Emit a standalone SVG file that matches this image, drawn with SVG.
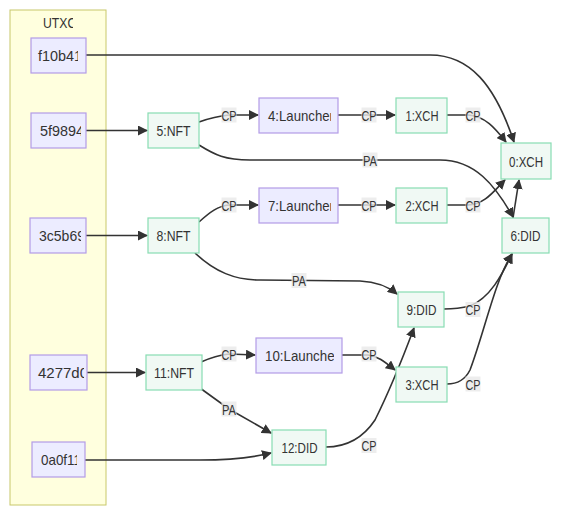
<svg xmlns="http://www.w3.org/2000/svg" width="572" height="519" viewBox="0 0 572 519">
<style>
.cluster{fill:#ffffde;stroke:#c8c86a;stroke-width:1}
.utxo rect{fill:#ececff;stroke:#b39ce6;stroke-width:1.2}
.launch rect{fill:#ececff;stroke:#b39ce6;stroke-width:1.2}
.coin rect{fill:#f0f9f4;stroke:#88dcb2;stroke-width:1.2}
text{font-family:"Liberation Sans",Arial,sans-serif;font-size:15px;fill:#333}
.edge{fill:none;stroke:#333;stroke-width:1.6}
.lbl rect{fill:#e8e8e8;opacity:0.8}
</style>
<defs>
<marker id="ah" viewBox="0 0 10 10" refX="9" refY="5" markerUnits="userSpaceOnUse" markerWidth="10" markerHeight="10" orient="auto">
<path d="M0,0 L10,5 L0,10 z" fill="#333"/>
</marker>
<clipPath id="cT"><rect x="10" y="10" width="63" height="30"/></clipPath>
<clipPath id="c1"><rect x="31" y="38" width="47" height="35"/></clipPath>
<clipPath id="c2"><rect x="31" y="113" width="50" height="35"/></clipPath>
<clipPath id="c3"><rect x="30" y="218" width="51" height="35"/></clipPath>
<clipPath id="c4"><rect x="30" y="355" width="54" height="35"/></clipPath>
<clipPath id="c5"><rect x="32" y="442" width="45" height="35"/></clipPath>
<clipPath id="cL4"><rect x="259" y="98" width="72" height="35"/></clipPath>
<clipPath id="cL7"><rect x="259" y="188" width="72" height="35"/></clipPath>
<clipPath id="cL10"><rect x="256" y="338" width="78" height="35"/></clipPath>
</defs>

<g id="UTXO">
<rect class="cluster" x="10" y="10" width="96" height="495"/>
<text x="43" y="27.5" textLength="34" lengthAdjust="spacingAndGlyphs" clip-path="url(#cT)">UTXO</text>
</g>

<g id="edges">
<path class="edge" d="M86,55 L430,55 C470,55 495,85 514,142" marker-end="url(#ah)"/>
<path class="edge" d="M86,130.5 L147,130.5" marker-end="url(#ah)"/>
<path class="edge" d="M199,122 C210,118 218,116 229,115 L258,115" marker-end="url(#ah)"/>
<path class="edge" d="M338,115 L395,115" marker-end="url(#ah)"/>
<path class="edge" d="M447,115 L468,115 C485,116 495,128 506,142" marker-end="url(#ah)"/>
<path class="edge" d="M199,145 C215,155 225,160 250,160 L440,160 C475,160 495,185 513,217" marker-end="url(#ah)"/>
<path class="edge" d="M86,235.5 L147,235.5" marker-end="url(#ah)"/>
<path class="edge" d="M199,222 C210,212 218,206 229,205 L258,205" marker-end="url(#ah)"/>
<path class="edge" d="M338,205 L395,205" marker-end="url(#ah)"/>
<path class="edge" d="M447,205 L468,205 C485,204 493,192 505,180" marker-end="url(#ah)"/>
<path class="edge" d="M513,218 L519,180" marker-end="url(#ah)"/>
<path class="edge" d="M195,253 C215,272 235,280 260,280 L360,281 C380,282 390,288 397,294" marker-end="url(#ah)"/>
<path class="edge" d="M444,309 C455,309 462,308 470,306 C490,298 502,275 512,254" marker-end="url(#ah)"/>
<path class="edge" d="M447,384 C458,384 465,380 470,370 C485,330 495,280 512,254" marker-end="url(#ah)"/>
<path class="edge" d="M87,372.5 L145,372.5" marker-end="url(#ah)"/>
<path class="edge" d="M201,362 C210,358 220,355 229,354 L255,355" marker-end="url(#ah)"/>
<path class="edge" d="M200,388 L229,409 L271,433" marker-end="url(#ah)"/>
<path class="edge" d="M342,355 L368,355 C378,356 385,362 395,370" marker-end="url(#ah)"/>
<path class="edge" d="M85,460 L200,460 C235,460 255,457 271,453" marker-end="url(#ah)"/>
<path class="edge" d="M326,447 C350,447 365,435 375,420 C390,390 402,360 414,328" marker-end="url(#ah)"/>
</g>

<g id="edge-labels">
<g class="lbl"><rect x="221.5" y="107.5" width="15" height="15"/><text x="229" y="120.5" text-anchor="middle" textLength="15" lengthAdjust="spacingAndGlyphs">CP</text></g>
<g class="lbl"><rect x="361.5" y="107.5" width="15" height="15"/><text x="369" y="120.5" text-anchor="middle" textLength="15" lengthAdjust="spacingAndGlyphs">CP</text></g>
<g class="lbl"><rect x="465.5" y="107.5" width="15" height="15"/><text x="473" y="120.5" text-anchor="middle" textLength="15" lengthAdjust="spacingAndGlyphs">CP</text></g>
<g class="lbl"><rect x="362.5" y="152.5" width="15" height="15"/><text x="370" y="165.5" text-anchor="middle" textLength="14" lengthAdjust="spacingAndGlyphs">PA</text></g>
<g class="lbl"><rect x="221.5" y="197.5" width="15" height="15"/><text x="229" y="210.5" text-anchor="middle" textLength="15" lengthAdjust="spacingAndGlyphs">CP</text></g>
<g class="lbl"><rect x="361.5" y="197.5" width="15" height="15"/><text x="369" y="210.5" text-anchor="middle" textLength="15" lengthAdjust="spacingAndGlyphs">CP</text></g>
<g class="lbl"><rect x="465.5" y="197.5" width="15" height="15"/><text x="473" y="210.5" text-anchor="middle" textLength="15" lengthAdjust="spacingAndGlyphs">CP</text></g>
<g class="lbl"><rect x="291.5" y="273" width="15" height="15"/><text x="299" y="286" text-anchor="middle" textLength="14" lengthAdjust="spacingAndGlyphs">PA</text></g>
<g class="lbl"><rect x="465.5" y="302" width="15" height="15"/><text x="473" y="315" text-anchor="middle" textLength="15" lengthAdjust="spacingAndGlyphs">CP</text></g>
<g class="lbl"><rect x="221.5" y="346.5" width="15" height="15"/><text x="229" y="359.5" text-anchor="middle" textLength="15" lengthAdjust="spacingAndGlyphs">CP</text></g>
<g class="lbl"><rect x="361.5" y="346.5" width="15" height="15"/><text x="369" y="359.5" text-anchor="middle" textLength="15" lengthAdjust="spacingAndGlyphs">CP</text></g>
<g class="lbl"><rect x="465.5" y="376.5" width="15" height="15"/><text x="473" y="389.5" text-anchor="middle" textLength="15" lengthAdjust="spacingAndGlyphs">CP</text></g>
<g class="lbl"><rect x="221.5" y="401.5" width="15" height="15"/><text x="229" y="414.5" text-anchor="middle" textLength="14" lengthAdjust="spacingAndGlyphs">PA</text></g>
<g class="lbl"><rect x="361.5" y="438" width="15" height="15"/><text x="369" y="451" text-anchor="middle" textLength="15" lengthAdjust="spacingAndGlyphs">CP</text></g>
</g>

<g id="f10b41" class="utxo"><rect x="31" y="38" width="55" height="35"/><text x="38" y="61" textLength="44" lengthAdjust="spacingAndGlyphs" clip-path="url(#c1)">f10b41</text></g>
<g id="5f9894" class="utxo"><rect x="31" y="113" width="55" height="35"/><text x="40" y="136" textLength="44" lengthAdjust="spacingAndGlyphs" clip-path="url(#c2)">5f9894</text></g>
<g id="3c5b69" class="utxo"><rect x="30" y="218" width="56" height="35"/><text x="39" y="241" textLength="46" lengthAdjust="spacingAndGlyphs" clip-path="url(#c3)">3c5b69</text></g>
<g id="4277d0" class="utxo"><rect x="30" y="355" width="57" height="35"/><text x="38" y="378" textLength="50" lengthAdjust="spacingAndGlyphs" clip-path="url(#c4)">4277d0</text></g>
<g id="0a0f11" class="utxo"><rect x="32" y="442" width="53" height="35"/><text x="41" y="465" textLength="40" lengthAdjust="spacingAndGlyphs" clip-path="url(#c5)">0a0f11</text></g>

<g id="n5" class="coin"><rect x="148" y="113" width="51" height="35"/><text x="173.5" y="136" text-anchor="middle" textLength="34" lengthAdjust="spacingAndGlyphs">5:NFT</text></g>
<g id="n8" class="coin"><rect x="148" y="218" width="51" height="35"/><text x="173.5" y="241" text-anchor="middle" textLength="34" lengthAdjust="spacingAndGlyphs">8:NFT</text></g>
<g id="n11" class="coin"><rect x="146" y="355" width="56" height="35"/><text x="174" y="378" text-anchor="middle" textLength="40" lengthAdjust="spacingAndGlyphs">11:NFT</text></g>

<g id="n4" class="launch"><rect x="259" y="98" width="79" height="35"/><text x="268" y="121" textLength="66" lengthAdjust="spacingAndGlyphs" clip-path="url(#cL4)">4:Launcher</text></g>
<g id="n7" class="launch"><rect x="259" y="188" width="79" height="35"/><text x="268" y="211" textLength="66" lengthAdjust="spacingAndGlyphs" clip-path="url(#cL7)">7:Launcher</text></g>
<g id="n10" class="launch"><rect x="256" y="338" width="86" height="35"/><text x="265" y="361" textLength="74" lengthAdjust="spacingAndGlyphs" clip-path="url(#cL10)">10:Launcher</text></g>

<g id="n12" class="coin"><rect x="272" y="430" width="54" height="35"/><text x="299.5" y="453" text-anchor="middle" textLength="36" lengthAdjust="spacingAndGlyphs">12:DID</text></g>
<g id="n1" class="coin"><rect x="396" y="98" width="51" height="35"/><text x="422" y="121" text-anchor="middle" textLength="33" lengthAdjust="spacingAndGlyphs">1:XCH</text></g>
<g id="n2" class="coin"><rect x="396" y="188" width="51" height="35"/><text x="422" y="211" text-anchor="middle" textLength="33" lengthAdjust="spacingAndGlyphs">2:XCH</text></g>
<g id="n9" class="coin"><rect x="398" y="292" width="46" height="35"/><text x="421.5" y="315" text-anchor="middle" textLength="30" lengthAdjust="spacingAndGlyphs">9:DID</text></g>
<g id="n3" class="coin"><rect x="396" y="367" width="51" height="35"/><text x="422" y="390" text-anchor="middle" textLength="33" lengthAdjust="spacingAndGlyphs">3:XCH</text></g>
<g id="n0" class="coin"><rect x="501" y="143" width="50" height="36"/><text x="526" y="166.5" text-anchor="middle" textLength="34" lengthAdjust="spacingAndGlyphs">0:XCH</text></g>
<g id="n6" class="coin"><rect x="502" y="218" width="47" height="35"/><text x="525.5" y="241" text-anchor="middle" textLength="30" lengthAdjust="spacingAndGlyphs">6:DID</text></g>
</svg>
